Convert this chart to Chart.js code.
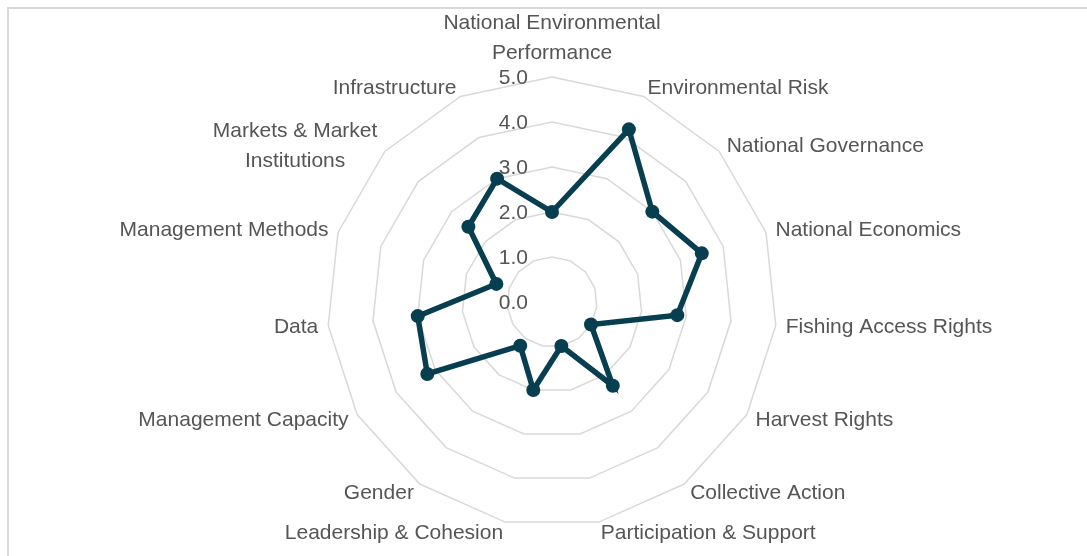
<!DOCTYPE html>
<html>
<head>
<meta charset="utf-8">
<script src="https://cdn.jsdelivr.net/npm/chart.js@4.4.1/dist/chart.umd.min.js"></script>
<style>
  html, body { margin: 0; padding: 0; background: #fff; overflow: hidden; }
  #wrap { position: relative; width: 1087px; height: 556px; overflow: hidden; }
  #frame { position: absolute; left: 7px; top: 7px; width: 1200px; height: 700px; border: 2px solid #D9D9D9; }
  canvas { position: absolute; left: 0; top: 0; }
</style>
</head>
<body>
<div id="wrap">
  <div id="frame"></div>
  <canvas id="radarChart" width="1087" height="556"></canvas>
</div>
<script>
const categories = [
  ['National Environmental', 'Performance'],
  'Environmental Risk',
  'National Governance',
  'National Economics',
  'Fishing Access Rights',
  'Harvest Rights',
  'Collective Action',
  'Participation & Support',
  'Leadership & Cohesion',
  'Gender',
  'Management Capacity',
  'Data',
  'Management Methods',
  ['Markets & Market', 'Institutions'],
  'Infrastructure'
]
const scores = [2.0, 4.2, 3.0, 3.5, 2.8, 1.0, 2.3, 1.0, 2.0, 1.2, 3.2, 3.0, 1.3, 2.5, 3.0]
const tickValues = [0, 1, 2, 3, 4, 5]
const tickLabels = ['0.0', '1.0', '2.0', '3.0', '4.0', '5.0']

const textColor = '#555555'
const labelFont = '21px "Liberation Sans", Arial, sans-serif'

// etiquetas desenhadas à mão para ficarem no mesmo lugar do Excel
const excelLabels = {
  id: 'excelLabels',
  beforeDatasetsDraw(chart) {
    const r = chart.scales.r
    const ctx = chart.ctx
    ctx.save()
    ctx.font = labelFont
    ctx.fillStyle = textColor
    ctx.textBaseline = 'middle'

    ctx.textAlign = 'right'
    tickValues.forEach((v, i) => {
      const y = r.yCenter - r.getDistanceFromCenterForValue(v)
      ctx.fillText(tickLabels[i], r.xCenter - 24, y + 1)
    })

    ctx.textAlign = 'center'
    const lh = 30
    categories.forEach((lab, i) => {
      const lines = Array.isArray(lab) ? lab : [lab]
      const p = r.getPointPosition(i, r.drawingArea + 10)
      const w = Math.max(...lines.map(l => ctx.measureText(l).width))
      let cx, cy
      if (Math.abs(p.x - r.xCenter) < 1) {
        cx = p.x
        cy = p.y - lines.length * lh / 2
      } else if (p.x > r.xCenter) {
        cx = p.x + w / 2
        cy = p.y
      } else {
        cx = p.x - w / 2
        cy = p.y
      }
      lines.forEach((l, k) => {
        ctx.fillText(l, cx, cy + 1 + (k - (lines.length - 1) / 2) * lh)
      })
    })
    ctx.restore()
  }
}

const ctx = document.getElementById('radarChart').getContext('2d')
new Chart(ctx, {
  type: 'radar',
  data: {
    labels: categories,
    datasets: [{
      label: 'Score',
      data: scores,
      borderColor: '#073E50',
      backgroundColor: '#073E50',
      pointBackgroundColor: '#073E50',
      pointBorderColor: '#073E50',
      borderWidth: 5.5,
      pointRadius: 7,
      pointBorderWidth: 0,
      fill: false,
      tension: 0
    }]
  },
  options: {
    responsive: false,
    animation: false,
    layout: {
      padding: { left: 327, right: 310, top: 77, bottom: 29 }
    },
    scales: {
      r: {
        min: 0,
        max: 5,
        ticks: { stepSize: 1, display: false },
        grid: { color: '#D9D9D9', lineWidth: 1.5 },
        angleLines: { display: false },
        pointLabels: { display: false }
      }
    },
    plugins: {
      legend: { display: false },
      tooltip: { enabled: false }
    }
  },
  plugins: [excelLabels]
})
</script>
</body>
</html>
